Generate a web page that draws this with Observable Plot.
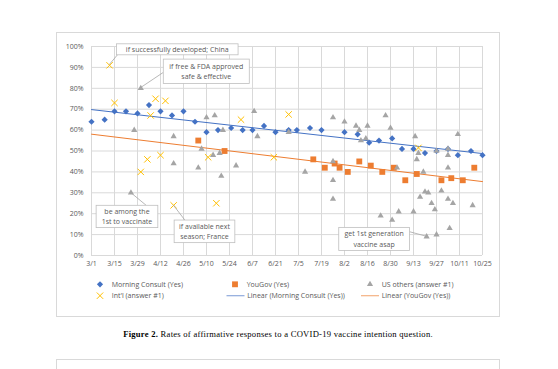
<!DOCTYPE html>
<html><head><meta charset="utf-8">
<script src="https://cdn.jsdelivr.net/npm/d3@7"></script>
<script src="https://cdn.jsdelivr.net/npm/@observablehq/plot@0.6"></script>
<style>
body{margin:0;background:#fff;}
#page{position:relative;width:558px;height:369px;overflow:hidden;font-family:"Open Sans",sans-serif;}
#frame{position:absolute;left:56px;top:31.5px;width:444px;height:285px;border:1px solid #d9d9d9;box-sizing:border-box;}
#chart{position:absolute;left:0;top:0;}
#legend{position:absolute;left:0;top:270px;}
#caption{position:absolute;left:56px;width:444px;top:329px;text-align:center;font-family:"Liberation Serif",serif;font-size:8.6px;letter-spacing:0.25px;color:#000;white-space:nowrap;}
#nextbox{position:absolute;left:56px;top:359px;width:444px;height:30px;border:1px solid #d9d9d9;box-sizing:border-box;}
</style></head>
<body><div id="page"><div id="frame"></div><div id="chart"></div><div id="legend"></div>
<div id="caption"><b>Figure 2.</b> Rates of affirmative responses to a COVID-19 vaccine intention question.</div>
<div id="nextbox"></div></div>
<script>
// ---- data ----
const tickLabels = ["3/1","3/15","3/29","4/12","4/26","5/10","5/24","6/7","6/21","7/5","7/19","8/2","8/16","8/30","9/13","9/27","10/11","10/25"];
const yTicks = [0,10,20,30,40,50,60,70,80,90,100];

const mcDates = ["3/1","3/9","3/15","3/22","3/29","4/5","4/12","4/19","4/26","5/3","5/10","5/17","5/25","6/1","6/7","6/14","6/21","6/29","7/4","7/12","7/19","8/2","8/10","8/17","8/23","8/31","9/6","9/13","9/20","9/27","10/4","10/10","10/18","10/25"];
const mcValues = [64,65,69,69,68,72,69,67,69,64,59,60,61,60,60,62,59,60,60,61,60,59,58,54,55,56,51,51,49,50,51,48,50,48];

const ygDates = ["5/5","5/21","7/14","7/21","7/27","7/30","8/4","8/11","8/18","8/25","9/1","9/8","9/15","9/30","10/6","10/13","10/20"];
const ygValues = [55,50,46,42,44,42,40,45,43,40,42,36,39,36,37,36,42];

const usDates = ["3/25","3/27","3/31","4/20","4/20","5/5","5/7","5/10","5/14","5/15","5/18","5/19","5/20","5/28","6/8","6/10","6/29","7/9","7/26","7/26","7/26","7/26","8/2","8/9","8/11","8/12","8/15","8/16","8/24","8/27","8/30","8/31","9/3","9/4","9/13","9/14","9/15","9/16","9/17","9/19","9/20","9/21","9/22","9/24","9/26","9/27","9/27","9/30","10/4","10/4","10/4","10/4","10/5","10/7","10/10","10/19"];
const usValues = [30,60,80,57,44,42,51,66,48,67,49,38,60,43,69,57,59,40,66,45,36,27,64,62,60,55,56,62,19,67,61,17,42,21,21,57,46,49,28,40,30.5,9,30,25,22,10,50,31,51,48,42,27,13,25,58,24];

const intlDates = ["3/12","3/15","3/31","4/4","4/6","4/9","4/12","4/15","4/20","5/11","5/16","5/31","6/20","6/29","9/16"];
const intlValues = [91,73,40,46,67,75,48,74,24,47,25,65,47,67.5,51.5];

const seriesNames = ["Morning Consult (Yes)","YouGov (Yes)","US others (answer #1)","Int'l (answer #1)","Linear (Morning Consult (Yes))","Linear (YouGov (Yes))"];

const noteTexts = [["if successfully developed; China"],["if free & FDA approved","safe & effective"],["be among the","1st to vaccinate"],["if available next","season; France"],["get 1st generation","vaccine asap"]];
const noteDates = ["3/12","3/31","3/25","4/20","9/21"];
const noteValues = [91,80,30,24,9];

// ---- layout / styles ----
const noteLayout = [
  {dx:7.4, dy:-21, w:121.6, h:11, ax:1, ay:11},
  {dx:23, dy:-28.7, w:86, h:24.3, ax:0, ay:13.3},
  {dx:-34.3, dy:13, w:61.7, h:22.3, ax:50, ay:0},
  {dx:1, dy:15.2, w:60.7, h:22.6, ax:10.7, ay:0},
  {dx:-87.4, dy:-8.8, w:70.7, h:23, ax:70.7, ay:4.3}
];
const C = {mc:"#4472C4", yg:"#ED7D31", us:"#A5A5A5", intl:"#FFC000", grid:"#d9d9d9", text:"#595959"};

const parse = s => { const [m,d] = s.split("/").map(Number); return new Date(Date.UTC(2020, m-1, d)); };
const toRows = (ds, vs) => ds.map((d,i) => ({date: parse(d), value: vs[i]}));
const mc = toRows(mcDates, mcValues), yg = toRows(ygDates, ygValues), us = toRows(usDates, usValues), intl = toRows(intlDates, intlValues);
const tickDates = tickLabels.map(parse);
const xDomain = [tickDates[0], tickDates[tickDates.length-1]];

function fit(rows) {
  const xs = rows.map(r => +r.date), ys = rows.map(r => r.value);
  const mx = d3.mean(xs), my = d3.mean(ys);
  let sxy = 0, sxx = 0;
  xs.forEach((x,i) => { sxy += (x-mx)*(ys[i]-my); sxx += (x-mx)*(x-mx); });
  const b = sxy/sxx, a = my - b*mx;
  return xDomain.map(d => ({date: d, value: a + b*(+d)}));
}

const chart = Plot.plot({
  width: 558, height: 280,
  marginLeft: 91, marginRight: 76, marginTop: 46, marginBottom: 25,
  style: {fontFamily: "Open Sans, sans-serif", fontSize: "7px", color: C.text, background: "transparent", overflow: "visible"},
  x: {type: "utc", domain: xDomain, ticks: tickDates, tickFormat: d3.utcFormat("%-m/%-d"), tickSize: 0, tickPadding: 6, label: null},
  y: {domain: [0, 100], ticks: yTicks, tickFormat: d => d + "%", tickSize: 0, tickPadding: 8, label: null},
  marks: [
    Plot.gridY(yTicks, {stroke: C.grid, strokeOpacity: 1}),
    Plot.gridX(tickDates, {stroke: C.grid, strokeOpacity: 1}),
    Plot.line(fit(mc), {x: "date", y: "value", stroke: C.mc, strokeWidth: 1}),
    Plot.line(fit(yg), {x: "date", y: "value", stroke: C.yg, strokeWidth: 1}),
    Plot.dot(mc, {x: "date", y: "value", symbol: "diamond2", r: 2.8, fill: C.mc, stroke: "none"}),
    Plot.dot(yg, {x: "date", y: "value", symbol: "square", r: 3.3, fill: C.yg, stroke: "none"}),
    Plot.dot(us, {x: "date", y: "value", symbol: "triangle", r: 2.3, fill: C.us, stroke: "none"}),
    Plot.dot(intl, {x: "date", y: "value", symbol: "times", r: 3, stroke: C.intl, strokeWidth: 1, fill: "none"})
  ]
});
document.getElementById("chart").appendChild(chart);

// annotations (callouts anchored to data points via the chart's scales)
const sx = chart.scale("x"), sy = chart.scale("y");
const svg = d3.select(chart);
const g = svg.append("g").attr("font-family", "Open Sans, sans-serif").attr("font-size", 7);
noteTexts.forEach((lines, i) => {
  const px = sx.apply(parse(noteDates[i])), py = sy.apply(noteValues[i]);
  const L = noteLayout[i];
  const bx = px + L.dx, by = py + L.dy;
  g.append("line").attr("x1", px).attr("y1", py).attr("x2", bx + L.ax).attr("y2", by + L.ay)
    .attr("stroke", "#a6a6a6").attr("stroke-width", 0.8);
  g.append("rect").attr("x", bx).attr("y", by).attr("width", L.w).attr("height", L.h)
    .attr("fill", "#fff").attr("stroke", "#bfbfbf").attr("stroke-width", 0.8);
  const n = lines.length, lh = 10.3;
  lines.forEach((t, k) => {
    g.append("text").attr("x", bx + L.w/2).attr("y", by + L.h/2 + (k - (n-1)/2)*lh)
      .attr("dy", "0.36em").attr("text-anchor", "middle").attr("fill", C.text).text(t);
  });
});

// legend
const lg = d3.select("#legend").append("svg").attr("width", 558).attr("height", 40)
  .attr("font-family", "Open Sans, sans-serif").attr("font-size", 7);
const items = [
  {x:100, y:14.3, kind:"diamond", color:C.mc},
  {x:235, y:14.3, kind:"square", color:C.yg},
  {x:370, y:14.3, kind:"triangle", color:C.us},
  {x:100, y:25.7, kind:"times", color:C.intl},
  {x:235.5, y:25.7, kind:"line", color:"#8faadc"},
  {x:370, y:25.7, kind:"line", color:"#f4b183"}
];
items.forEach((it, i) => {
  const sym = {diamond:d3.symbolDiamond2, square:d3.symbolSquare, triangle:d3.symbolTriangle, times:d3.symbolTimes};
  const sizes = {diamond:24.6, square:34.2, triangle:16.6, times:28.3};
  if (it.kind === "line") {
    lg.append("line").attr("x1", it.x - 9).attr("x2", it.x + 9).attr("y1", it.y).attr("y2", it.y).attr("stroke", it.color).attr("stroke-width", 1.2);
  } else {
    const p = lg.append("path").attr("transform", `translate(${it.x},${it.y})`).attr("d", d3.symbol(sym[it.kind], sizes[it.kind])());
    if (it.kind === "times") p.attr("fill", "none").attr("stroke", it.color).attr("stroke-width", 1);
    else p.attr("fill", it.color);
  }
  lg.append("text").attr("x", it.x + 11.7).attr("y", it.y).attr("dy", "0.36em").attr("fill", C.text).text(seriesNames[i]);
});
</script></body></html>
